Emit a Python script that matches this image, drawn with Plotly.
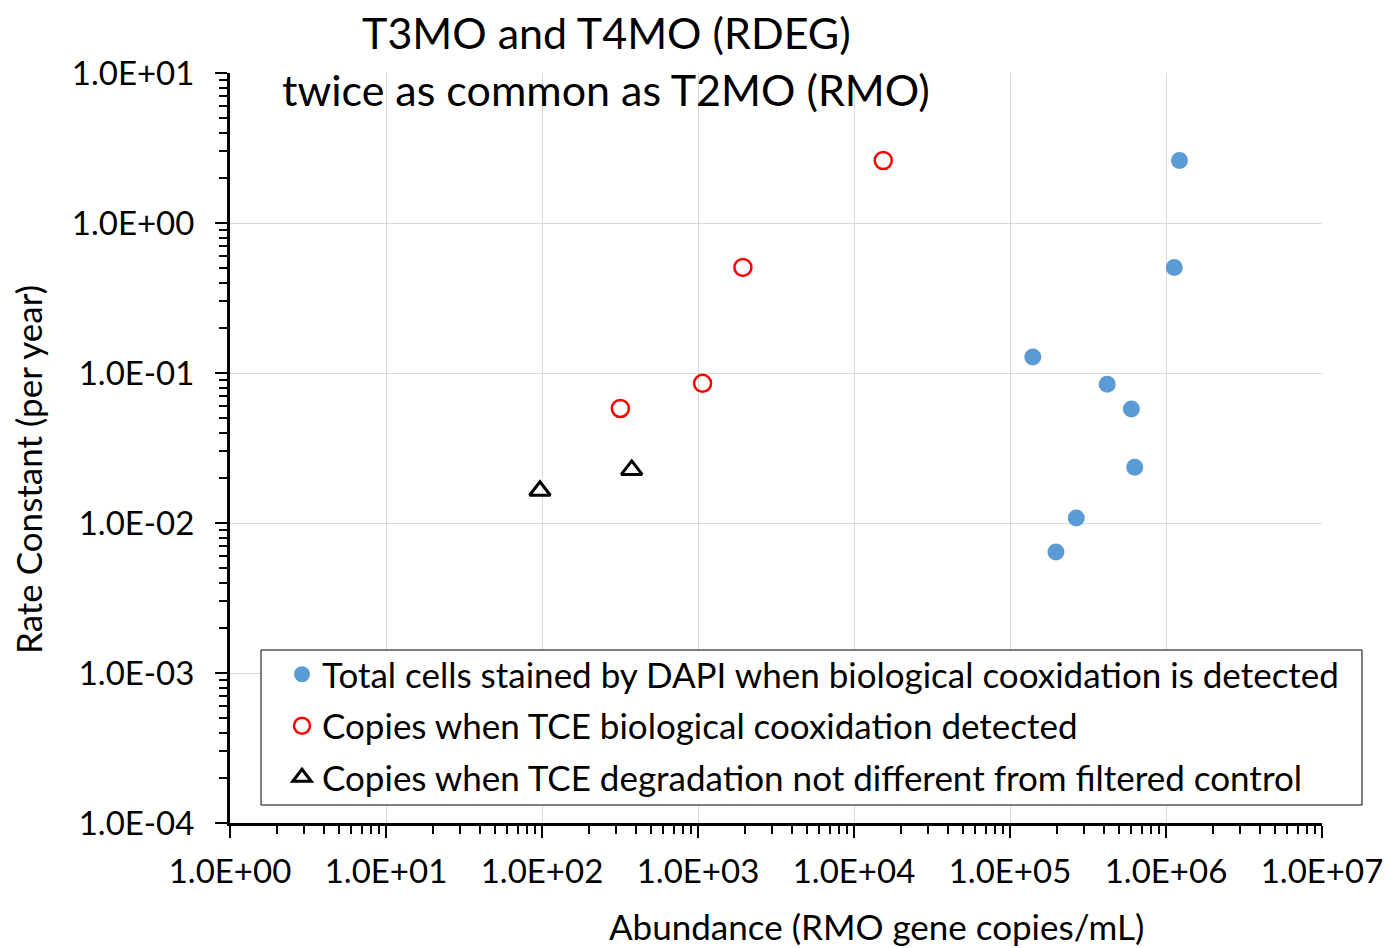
import plotly.graph_objects as go

# Abundance (gene copies/mL) and first-order rate constants (per year)
dapi_x = [1.22e6, 1.13e6, 1.40e5, 4.2e5, 6.0e5, 6.3e5, 2.66e5, 1.97e5]
dapi_y = [2.61, 0.505, 0.128, 0.084, 0.0575, 0.0235, 0.0108, 0.0064]

cox_x = [1.54e4, 1.94e3, 1.07e3, 318]
cox_y = [2.61, 0.506, 0.0853, 0.058]

ctrl_x = [97, 376]
ctrl_y = [0.0164, 0.0226]

x_tickvals = [1e0, 1e1, 1e2, 1e3, 1e4, 1e5, 1e6, 1e7]
x_ticktext = ["1.0E+00", "1.0E+01", "1.0E+02", "1.0E+03", "1.0E+04", "1.0E+05", "1.0E+06", "1.0E+07"]
y_tickvals = [1e-4, 1e-3, 1e-2, 1e-1, 1e0, 1e1]
y_ticktext = ["1.0E-04", "1.0E-03", "1.0E-02", "1.0E-01", "1.0E+00", "1.0E+01"]

labels = [
    "Total cells stained by DAPI when biological cooxidation is detected",
    "Copies when TCE biological cooxidation detected",
    "Copies when TCE degradation not different from filtered control",
]

FONT = "Lato, Calibri, sans-serif"

# plot-area geometry in pixels
W, H = 1387, 948
L, R, T, B = 230, 65, 73, 125
PW, PH = W - L - R, H - T - B


def px_x(px):
    return (px - L) / PW


def px_y(py):
    return (H - B - py) / PH


def minor_vals(lo, hi):
    return [k * 10.0 ** n for n in range(lo, hi) for k in range(2, 10)]


fig = go.Figure()
fig.add_trace(go.Scatter(
    x=dapi_x, y=dapi_y, mode="markers", name=labels[0], legendgroup="a",
    marker=dict(symbol="circle", size=17, color="#5B9BD5"),
))
fig.add_trace(go.Scatter(
    x=cox_x, y=cox_y, mode="markers", name=labels[1], legendgroup="b",
    marker=dict(symbol="circle-open", size=17, color="#FF0000", line=dict(width=2.5)),
))
fig.add_trace(go.Scatter(
    x=ctrl_x, y=ctrl_y, mode="markers", name=labels[2], legendgroup="c",
    marker=dict(symbol="triangle-up-open", size=18, color="#000000", line=dict(width=3)),
))

axis_common = dict(
    type="log",
    automargin=False,
    showline=True, linecolor="black", linewidth=3,
    showgrid=True, gridcolor="#D9D9D9", gridwidth=1,
    zeroline=False,
    ticks="outside", ticklen=12, tickwidth=2, tickcolor="black",
    tickfont=dict(family=FONT, size=33, color="black"),
    tickmode="array",
)

fig.update_xaxes(
    **axis_common,
    range=[0, 7], tickvals=x_tickvals, ticktext=x_ticktext,
    ticklabelstandoff=5,
    minor=dict(ticks="outside", ticklen=8, tickwidth=1.5, tickcolor="black",
               tickvals=minor_vals(0, 7), showgrid=False),
)
fig.update_yaxes(
    **axis_common,
    range=[-4, 1], tickvals=y_tickvals, ticktext=y_ticktext,
    ticklabelstandoff=14,
    minor=dict(ticks="outside", ticklen=8, tickwidth=1.5, tickcolor="black",
               tickvals=minor_vals(-4, 1), showgrid=False),
)

annotations = [
    dict(text="T3MO and T4MO (RDEG)", x=px_x(606), y=px_y(32), xref="paper", yref="paper",
         xanchor="center", yanchor="middle", showarrow=False,
         font=dict(family=FONT, size=43, color="black")),
    dict(text="twice as common as T2MO (RMO)", x=px_x(606), y=px_y(90), xref="paper", yref="paper",
         xanchor="center", yanchor="middle", showarrow=False,
         font=dict(family=FONT, size=43, color="black")),
    dict(text="Abundance (RMO gene copies/mL)", x=px_x(876), y=px_y(926), xref="paper", yref="paper",
         xanchor="center", yanchor="middle", showarrow=False,
         font=dict(family=FONT, size=35, color="black")),
    dict(text="Rate Constant (per year)", x=px_x(28), y=px_y(470), xref="paper", yref="paper",
         xanchor="center", yanchor="middle", showarrow=False, textangle=-90,
         font=dict(family=FONT, size=35, color="black")),
]

# legend frame, drawn as a white box with a thin black border
shapes = [
    dict(type="rect", xref="paper", yref="paper",
         x0=px_x(261), x1=px_x(1362), y0=px_y(805), y1=px_y(650),
         line=dict(color="black", width=1), fillcolor="white", layer="above"),
]

fig.update_layout(
    width=W, height=H,
    margin=dict(l=L, r=R, t=T, b=B),
    paper_bgcolor="white", plot_bgcolor="white",
    showlegend=True,
    legend=dict(
        x=px_x(282), y=px_y(645), xanchor="left", yanchor="top",
        borderwidth=0, bgcolor="rgba(0,0,0,0)",
        font=dict(family=FONT, size=35, color="black"),
        tracegroupgap=3,
    ),
    annotations=annotations,
    shapes=shapes,
)

fig.write_html("out.html")
